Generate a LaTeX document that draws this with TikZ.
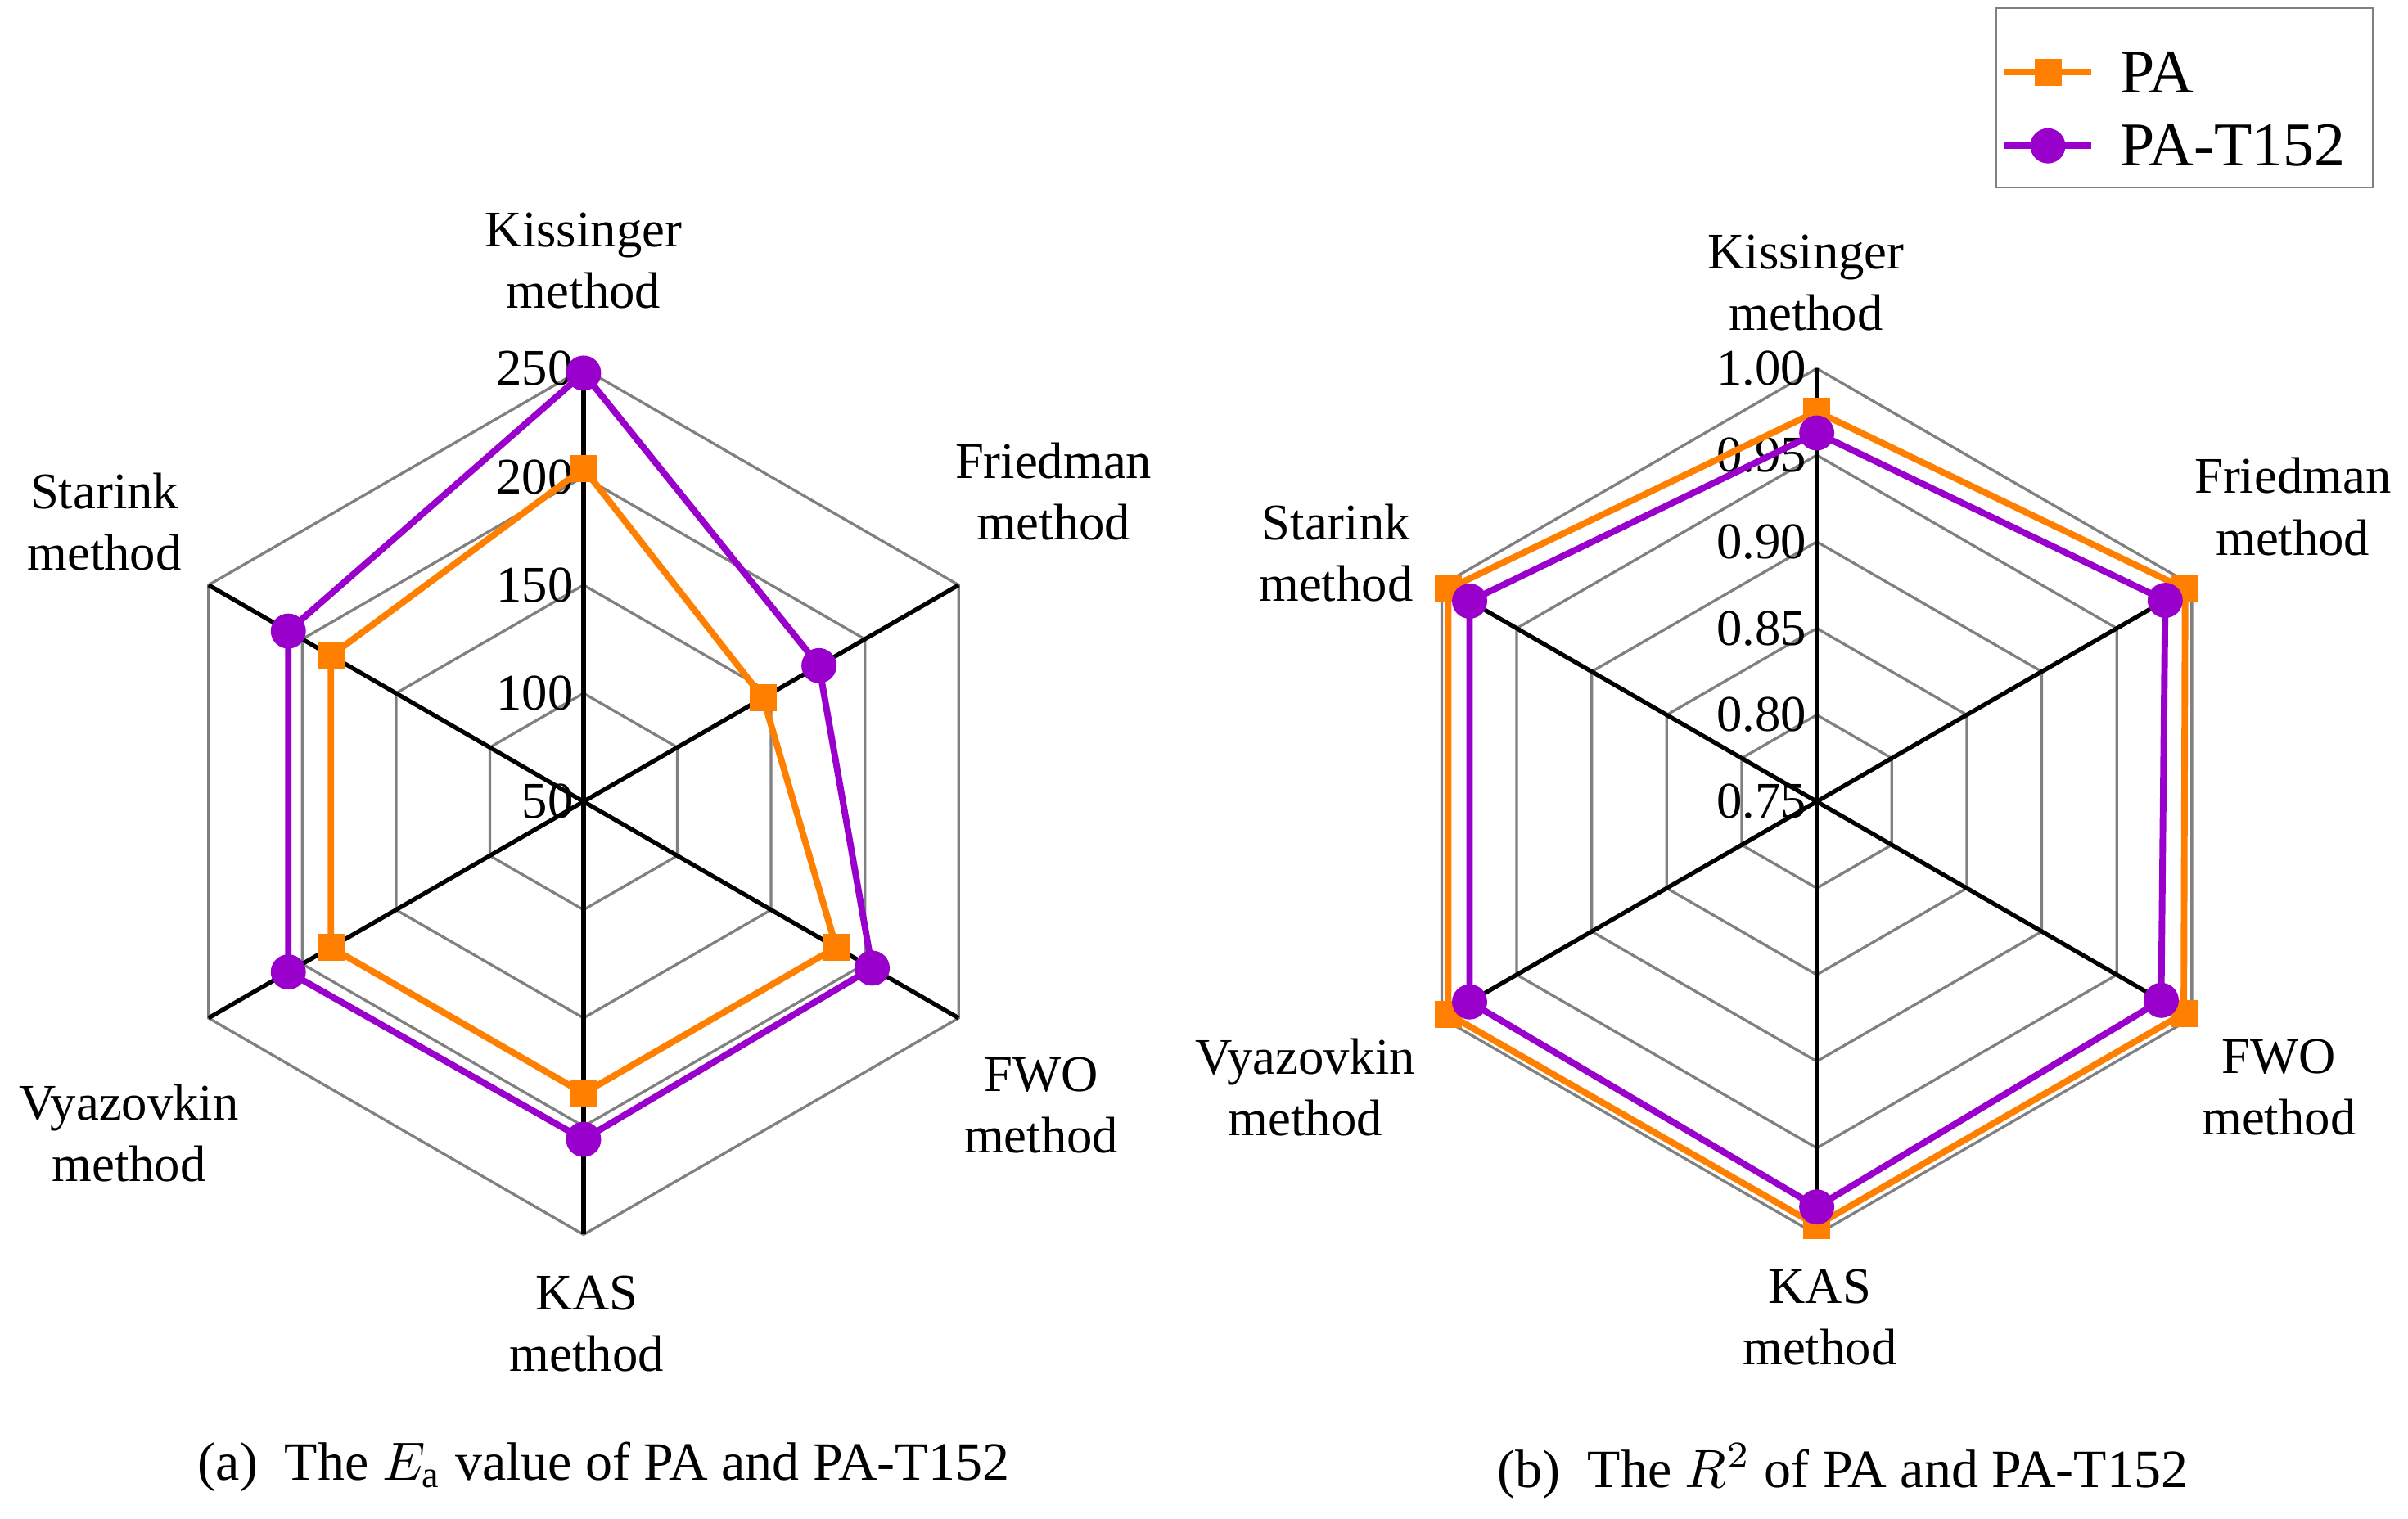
\documentclass[tikz,border=0pt]{standalone}
\usepackage{fontspec}
\setmainfont{Liberation Serif}
\usetikzlibrary{calc}

\definecolor{paorange}{HTML}{FF7F00}
\definecolor{papurple}{HTML}{9900CC}

\tikzset{
  ring/.style={draw=gray, line width=0.5pt},
  axis/.style={draw=black, line width=0.8pt},
  lbl/.style={align=center, font=\fontsize{9.5}{11.4}\selectfont},
  tick/.style={anchor=east, inner sep=0pt, font=\fontsize{9.5}{11}\selectfont},
  paline/.style={draw=paorange, line width=1.2pt},
  tline/.style={draw=papurple, line width=1.2pt},
  pamark/.style={fill=paorange, draw=none, rectangle, minimum size=5pt, inner sep=0pt},
  tmark/.style={fill=papurple, draw=none, circle, minimum size=6.5pt, inner sep=0pt}
}

\begin{document}
\begin{tikzpicture}[x=0.01cm, y=0.01cm]
\useasboundingbox (0,0) rectangle (1568,989);

% Centres of the two charts
\coordinate (ca) at (380,467);
\coordinate (cb) at (1183,467);

% Grid of chart (a)
\foreach \r in {70.5,141,211.5,282} {
  \draw[ring] ($(ca)+(90:\r)$) -- ($(ca)+(30:\r)$) -- ($(ca)+(-30:\r)$) -- ($(ca)+(-90:\r)$) -- ($(ca)+(210:\r)$) -- ($(ca)+(150:\r)$) -- cycle;
}
% Grid of chart (b)
\foreach \r in {56.4,112.8,169.2,225.6,282} {
  \draw[ring] ($(cb)+(90:\r)$) -- ($(cb)+(30:\r)$) -- ($(cb)+(-30:\r)$) -- ($(cb)+(-90:\r)$) -- ($(cb)+(210:\r)$) -- ($(cb)+(150:\r)$) -- cycle;
}
% Axes
\foreach \c in {ca,cb} {
  \foreach \a in {90,30,-30,-90,210,150} {
    \draw[axis] (\c) -- ++(\a:282);
  }
}

% Tick labels
\foreach \r/\v in {0/50, 70.5/100, 141/150, 211.5/200, 282/250} {
  \node[tick] (ta-\v) at ($(ca)+(-6,\r)$) {\v};
}
\foreach \r/\v in {0/0.75, 56.4/0.80, 112.8/0.85, 169.2/0.90, 225.6/0.95, 282/1.00} {
  \node[tick] (tb-\v) at ($(cb)+(-6,\r)$) {\v};
}

% Chart (a): PA
\draw[paline] ($(ca)+(90:217)$) -- ($(ca)+(30:135)$) -- ($(ca)+(-30:190)$) -- ($(ca)+(-90:190)$) -- ($(ca)+(210:190)$) -- ($(ca)+(150:190)$) -- cycle;
% Chart (a): PA-T152
\draw[tline] ($(ca)+(90:279)$) -- ($(ca)+(30:177)$) -- ($(ca)+(-30:217)$) -- ($(ca)+(-90:220)$) -- ($(ca)+(210:222)$) -- ($(ca)+(150:222)$) -- cycle;
\foreach \a/\r/\n in {90/217/1, 30/135/2, -30/190/3, -90/190/4, 210/190/5, 150/190/6} {
  \node[pamark] (pa-a\n) at ($(ca)+(\a:\r)$) {};
}
\foreach \a/\r/\n in {90/279/1, 30/177/2, -30/217/3, -90/220/4, 210/222/5, 150/222/6} {
  \node[tmark] (t-a\n) at ($(ca)+(\a:\r)$) {};
}

% Chart (b): PA
\draw[paline] ($(cb)+(90:254)$) -- ($(cb)+(30:277)$) -- ($(cb)+(-30:276)$) -- ($(cb)+(-90:276)$) -- ($(cb)+(210:277)$) -- ($(cb)+(150:277)$) -- cycle;
\foreach \a/\r/\n in {90/254/1, 30/277/2, -30/276/3, -90/276/4, 210/277/5, 150/277/6} {
  \node[pamark] (pa-b\n) at ($(cb)+(\a:\r)$) {};
}
% Chart (b): PA-T152
\draw[tline] ($(cb)+(90:240)$) -- ($(cb)+(30:262)$) -- ($(cb)+(-30:259)$) -- ($(cb)+(-90:264)$) -- ($(cb)+(210:261)$) -- ($(cb)+(150:261)$) -- cycle;
\foreach \a/\r/\n in {90/240/1, 30/262/2, -30/259/3, -90/264/4, 210/261/5, 150/261/6} {
  \node[tmark] (t-b\n) at ($(cb)+(\a:\r)$) {};
}

% Axis names
\node[lbl] (ka) at (380,819) {Kissinger\\method};
\node[lbl] (fa) at (686,669) {Friedman\\method};
\node[lbl] (wa) at (678,269) {FWO\\method};
\node[lbl] (sa) at (382,127) {KAS\\method};
\node[lbl] (va) at (84,251) {Vyazovkin\\method};
\node[lbl] (ra) at (68,649) {Starink\\method};

\node[lbl] (kb) at (1176,805) {Kissinger\\method};
\node[lbl] (fb) at (1493,659) {Friedman\\method};
\node[lbl] (wb) at (1484,281) {FWO\\method};
\node[lbl] (sb) at (1185,131) {KAS\\method};
\node[lbl] (vb) at (850,281) {Vyazovkin\\method};
\node[lbl] (rb) at (870,629) {Starink\\method};

% Captions
\node[lbl, font=\fontsize{10}{12}\selectfont] (capa) at (393,34) {(a)\ \ The $E_{\mathrm{a}}$ value of PA and PA-T152};
\node[lbl, font=\fontsize{10}{12}\selectfont] (capb) at (1200,31) {(b)\ \ The $R^{2}$ of PA and PA-T152};

% Legend
\draw[draw=gray, fill=white] (1300,867) rectangle (1545,984);
\coordinate (l1a) at (1305,942);
\coordinate (l1b) at (1362,942);
\coordinate (l2a) at (1305,894);
\coordinate (l2b) at (1362,894);
\draw[paline] (l1a) -- (l1b);
\node[pamark] (lm1) at ($(l1a)!0.5!(l1b)$) {};
\draw[tline] (l2a) -- (l2b);
\node[tmark] (lm2) at ($(l2a)!0.5!(l2b)$) {};
\node[anchor=west, font=\fontsize{11.5}{13}\selectfont] (lt1) at (1368,942) {PA};
\node[anchor=west, font=\fontsize{11.5}{13}\selectfont] (lt2) at (1368,894) {PA-T152};
\end{tikzpicture}
\end{document}
